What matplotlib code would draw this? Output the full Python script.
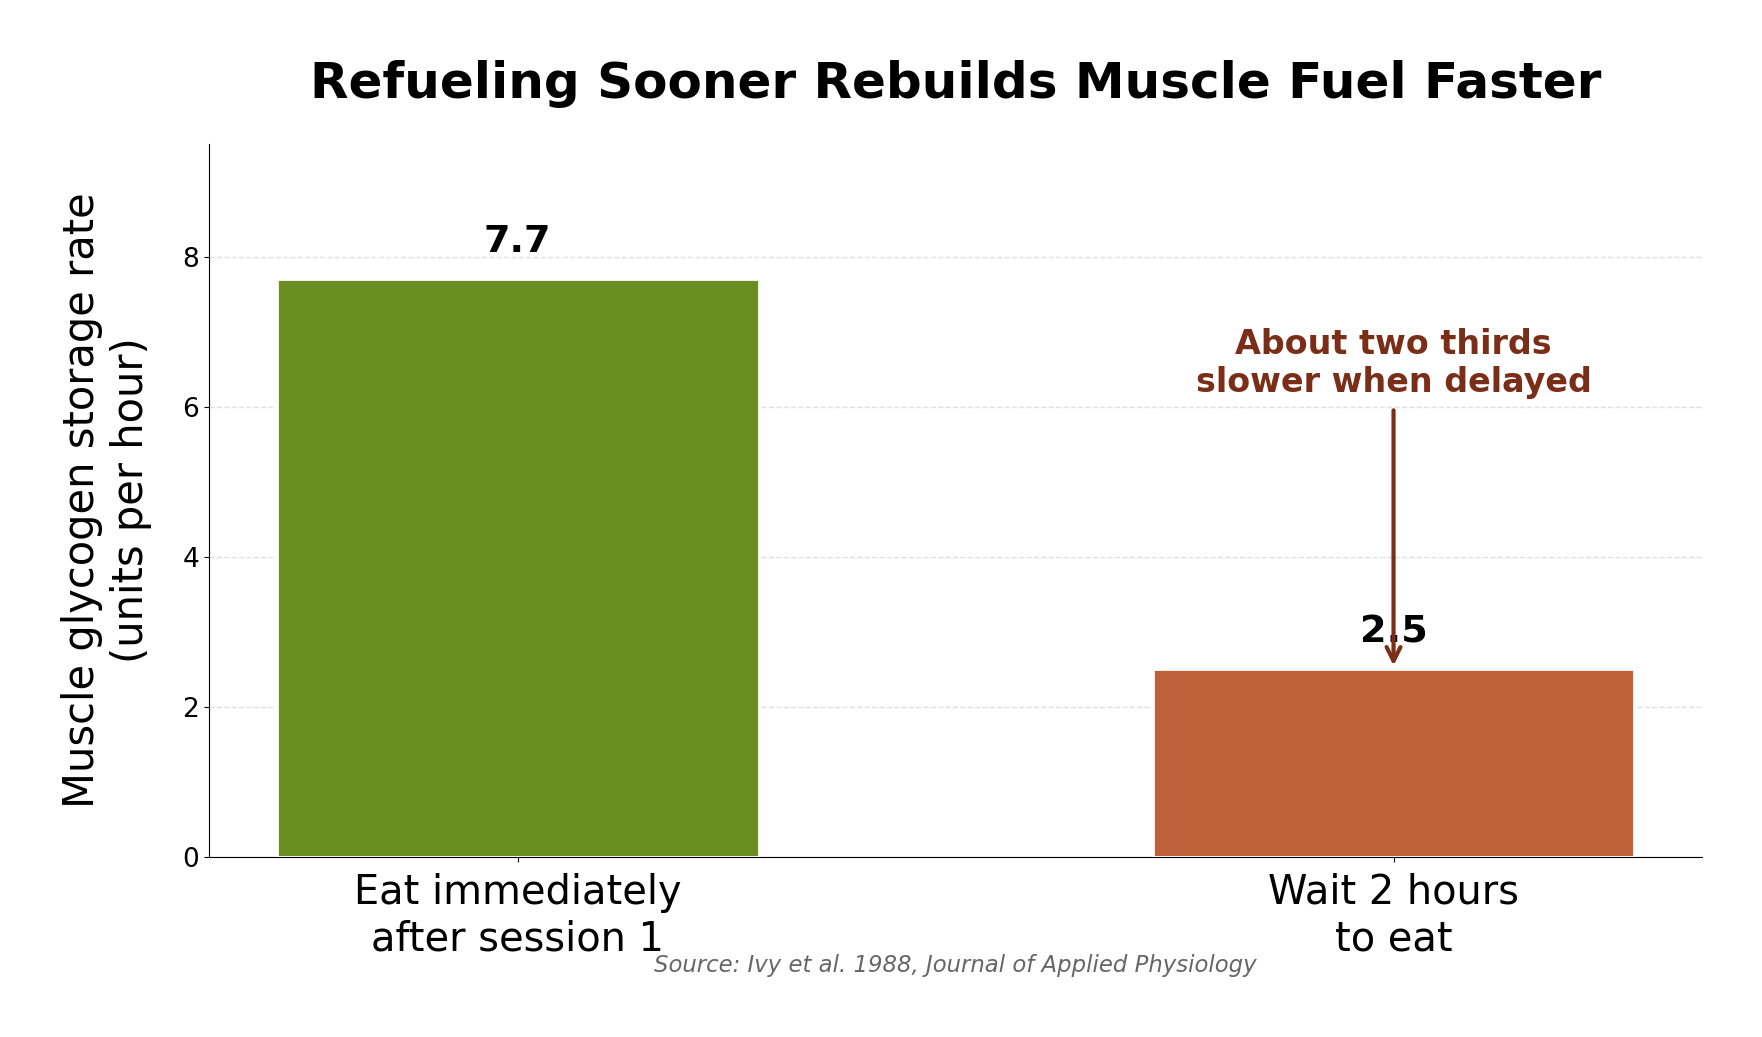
import matplotlib.pyplot as plt

categories = ["Eat immediately\nafter session 1", "Wait 2 hours\nto eat"]
rates = [7.7, 2.5]
bar_colors = ["#6b8e23", "#c0603a"]
title = "Refueling Sooner Rebuilds Muscle Fuel Faster"
note = "About two thirds\nslower when delayed"
source = "Source: Ivy et al. 1988, Journal of Applied Physiology"


def draw_chart():
    fig = plt.figure(figsize=(17.62, 10.37), dpi=100)
    ax = fig.add_axes([0.1186, 0.1736, 0.8475, 0.6875])

    x = list(range(len(categories)))
    ax.bar(x, rates, width=0.55, color=bar_colors,
           edgecolor="white", linewidth=2, zorder=3)

    for xi, v in zip(x, rates):
        ax.text(xi, v + 0.25, f"{v:.1f}", ha="center", va="bottom",
                fontsize=27.5, fontweight="bold", zorder=4)

    ax.annotate(note, xy=(1, 2.55), xytext=(1, 6.1),
                ha="center", va="bottom", fontsize=24,
                fontweight="bold", color="#7a2e17",
                arrowprops=dict(arrowstyle="->", color="#7a2e17",
                                lw=3, mutation_scale=25,
                                shrinkA=6, shrinkB=0),
                zorder=5)

    ax.set_ylim(0, 9.5)
    ax.set_xticks(x)
    ax.set_xticklabels(categories, fontsize=28.7)
    ax.tick_params(axis="x", pad=8)
    ax.tick_params(axis="y", labelsize=19)
    ax.set_yticks([0, 2, 4, 6, 8])
    ax.set_ylabel("Muscle glycogen storage rate\n(units per hour)",
                  fontsize=30, labelpad=22)
    ax.set_title(title, fontsize=36, fontweight="bold", pad=33)

    ax.grid(axis="y", linestyle="--", color="#e0e0e0", linewidth=1, zorder=0)
    ax.set_axisbelow(True)
    ax.spines["top"].set_visible(False)
    ax.spines["right"].set_visible(False)

    ax.text(0.5, -0.152, source, transform=ax.transAxes, ha="center",
            va="center", fontsize=16.4, style="italic", color="#666666")

    fig.savefig("out.png", dpi=100)


if __name__ == "__main__":
    draw_chart()
